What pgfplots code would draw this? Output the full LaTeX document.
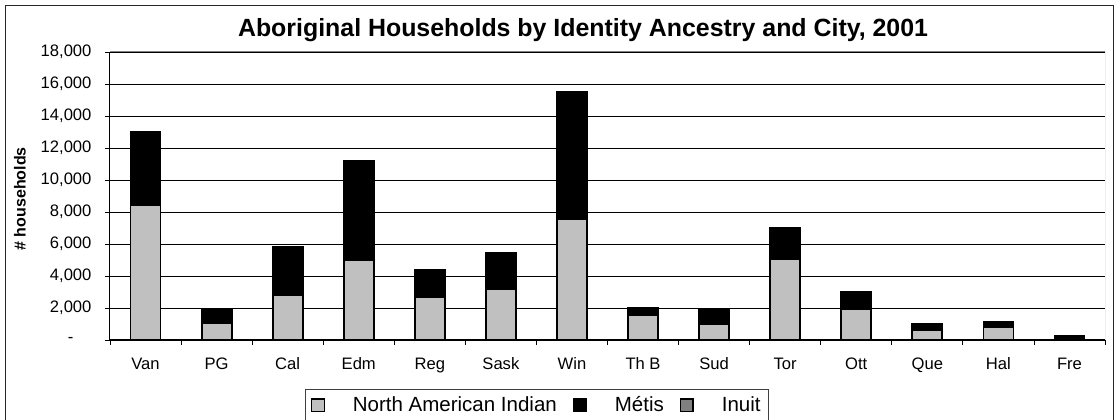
\documentclass[border=0pt]{standalone}
\usepackage{fontspec}
\setmainfont{Liberation Sans}
\usepackage{pgfplots}
\pgfplotsset{compat=1.18}
\usepackage{pgfplotstable}

% Aboriginal households by identity ancestry, per city (2001)
\pgfplotstableread{
idx nai metis inuit
0  8400 4500 100
1  1050  800  30
2  2800 2950  80
3  5000 6050 120
4  2700 1680  20
5  3150 2280  20
6  7550 7900  80
7  1550  440  20
8  1000  840  20
9  5050 1880  80
10 1900 1000 100
11  600  400  30
12  800  340  20
13  120  130  10
}\households

\definecolor{naigray}{RGB}{192,192,192}
\definecolor{inuitgray}{RGB}{128,128,128}

\begin{document}
\begin{tikzpicture}
\useasboundingbox (0pt,0pt) rectangle (1114pt,420pt);
\fill[white] (0pt,0pt) rectangle (1114pt,420pt);
\draw[line width=1pt, black!85] (5.5pt,-5pt) rectangle (1113pt,414.5pt);
\begin{axis}[
  at={(110pt,80pt)}, anchor=south west,
  scale only axis, width=995pt, height=288pt,
  ybar stacked, bar width=30pt,
  xmin=-0.5, xmax=13.5, ymin=0, ymax=18000,
  axis x line*=bottom, axis y line*=left,
  axis line style={black, line width=1pt},
  scaled y ticks=false,
  ytick={0,2000,...,18000},
  yticklabels={-\hspace*{18pt},{2,000},{4,000},{6,000},{8,000},{10,000},{12,000},{14,000},{16,000},{18,000}},
  yticklabel style={xshift=-10pt},
  xtick={0,...,13},
  xticklabels={Van,PG,Cal,Edm,Reg,Sask,Win,Th B,Sud,Tor,Ott,Que,Hal,Fre},
  xticklabel style={yshift=-9pt, text height=11.9pt, text depth=3.5pt},
  major x tick style={draw=none},
  minor xtick={-0.5,0.5,...,13.5},
  tick align=outside,
  major tick length=5pt, minor tick length=5pt,
  tick style={black, line width=0.8pt},
  ymajorgrids, major grid style={black, line width=0.8pt},
  ticklabel style={font=\fontsize{16.6}{19}\selectfont},
  title={Aboriginal Households by Identity Ancestry and City, 2001},
  title style={font=\bfseries\fontsize{24.9}{28}\selectfont, at={(axis description cs:0.4754,1)}, anchor=base, yshift=9.3pt},
  ylabel={\# households},
  ylabel style={font=\bfseries\fontsize{16}{19}\selectfont, at={(axis description cs:-0.0905,0.49)}, anchor=center},
  legend columns=3,
  legend image code/.code={
    \draw[#1, draw=black, line width=1.4pt] (0.7pt,-6.3pt) rectangle (13.3pt,6.3pt);
    \path[draw=none, fill=none] (0pt,0pt) -- (40pt,0pt);
  },
  legend style={
    at={(axis description cs:0,0)}, anchor=north west, xshift=195pt, yshift=-49pt,
    draw=black!75, line width=0.8pt,
    font=\fontsize{20.5}{24}\selectfont,
    inner xsep=5.5pt, inner ysep=5.5pt,
    /tikz/column sep=0pt,
    /tikz/every even column/.append style={column sep=14pt},
    cells={anchor=west},
  },
]
\addplot[fill=naigray, draw=black, line width=1.8pt] table[x=idx, y=nai] {\households};
\addplot[fill=black, draw=black, line width=1.8pt] table[x=idx, y=metis] {\households};
\addplot[fill=inuitgray, draw=black, line width=1.8pt] table[x=idx, y=inuit] {\households};
\legend{North American Indian, Métis, Inuit}
\draw[gray, line width=1pt] (rel axis cs:0,1) -- (rel axis cs:1,1) -- (rel axis cs:1,0);
\end{axis}
\end{tikzpicture}
\end{document}
